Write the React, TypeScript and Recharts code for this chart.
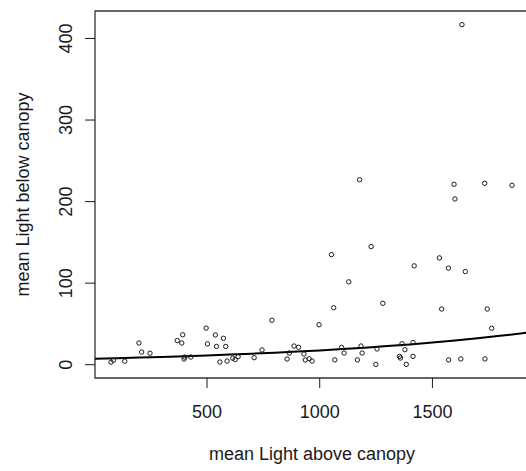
import { ComposedChart, Scatter, Line, XAxis, YAxis, ReferenceArea } from 'recharts'

// mean light above canopy (x) vs mean light below canopy (y)
const lightAbove = [
  74, 85, 135, 198, 210, 247, 368, 388, 392, 398, 401, 428,
  496, 502, 537, 542, 557, 573, 583, 589, 614, 625, 638, 709,
  744, 788, 855, 865, 886, 906, 930, 936, 953, 966, 997, 1052,
  1062, 1067, 1097, 1108, 1129, 1167, 1177, 1183, 1188, 1228, 1249, 1254,
  1280, 1354, 1358, 1365, 1378, 1384, 1414, 1414, 1419, 1531, 1541, 1571,
  1572, 1596, 1600, 1626, 1631, 1646, 1732, 1733, 1743, 1763, 1853,
]
const lightBelow = [
  3.1, 5.5, 4.3, 26.6, 15.5, 14.1, 29.6, 26.6, 36.7, 7.0, 9.4, 9.4,
  44.9, 25.5, 36.5, 22.4, 3.3, 32.4, 22.4, 4.5, 8.0, 6.4, 9.8, 8.6,
  18.1, 54.5, 7.0, 14.3, 22.9, 21.4, 13.1, 5.8, 7.3, 4.5, 49.0, 135,
  69.8, 5.9, 21.2, 14.3, 101.6, 5.9, 226.8, 22.9, 14.3, 144.8, 0.4, 19.3,
  75.3, 10.2, 8.2, 25.7, 18.4, 0.4, 27.2, 10.2, 121.2, 131, 68.3, 118.4,
  5.9, 221.2, 203.2, 7.1, 417, 114.2, 222.4, 7.1, 68.3, 44.7, 220,
]

// fitted curve
const fitX = [3, 100, 200, 300, 400, 500, 600, 700, 800, 900, 1000, 1100, 1200, 1300, 1400, 1500, 1600, 1700, 1800, 1900, 1924]
const fitY = [7.3, 8.0, 8.7, 9.5, 10.4, 11.3, 12.4, 13.5, 14.7, 16.1, 17.5, 19.2, 20.9, 22.8, 24.9, 27.2, 29.7, 32.4, 35.4, 38.6, 39.5]

const xTicks = [500, 1000, 1500]
const yTicks = [0, 100, 200, 300, 400]
const xDomain = [3, 1924]
const yDomain = [-16.3, 433.7]

const points = lightAbove.map((x, i) => ({ x, y: lightBelow[i] }))
const fit = fitX.map((x, i) => ({ x, y: fitY[i] }))

const FONT = '"Liberation Sans", Arial, sans-serif'
const INK = '#1a1a1a'

const OpenCircle = (props: any) => (
  <circle cx={props.cx} cy={props.cy} r={2.2} fill="none" stroke={INK} strokeWidth={1} />
)

const YTick = ({ y, payload }: any) => (
  <text
    x={72}
    y={y}
    transform={`rotate(-90, 72, ${y})`}
    textAnchor="middle"
    fontSize={18}
    fontFamily={FONT}
    fill={INK}
  >
    {payload.value}
  </text>
)

export default function App() {
  return (
    <div style={{ position: 'absolute', left: 0, top: 0, width: 526, height: 471, overflow: 'hidden', background: '#fff' }}>
      <ComposedChart width={540} height={471} margin={{ top: 11, right: 12, left: 0, bottom: 0 }}>
        <XAxis
          type="number"
          dataKey="x"
          domain={xDomain}
          allowDataOverflow
          ticks={xTicks}
          height={93}
          tickSize={10}
          tickMargin={17}
          axisLine={false}
          tickLine={{ stroke: INK }}
          tick={{ fontSize: 18, fontFamily: FONT, fill: INK }}
        />
        <YAxis
          type="number"
          dataKey="y"
          domain={yDomain}
          allowDataOverflow
          ticks={yTicks}
          width={95}
          tickSize={10}
          axisLine={false}
          tickLine={{ stroke: INK }}
          tick={<YTick />}
        />
        <ReferenceArea
          x1={xDomain[0]}
          x2={xDomain[1]}
          y1={yDomain[0]}
          y2={yDomain[1]}
          fill="none"
          stroke="#333"
          strokeWidth={1.3}
          ifOverflow="visible"
        />
        <Scatter data={points} dataKey="y" shape={<OpenCircle />} isAnimationActive={false} />
        <Line data={fit} dataKey="y" stroke="#000" strokeWidth={2} dot={false} isAnimationActive={false} />
      </ComposedChart>
      <svg width={526} height={471} style={{ position: 'absolute', left: 0, top: 0, pointerEvents: 'none' }}>
        <text x={312} y={460} textAnchor="middle" fontSize={18} fontFamily={FONT} fill={INK}>
          mean Light above canopy
        </text>
        <text
          x={29}
          y={194.5}
          transform="rotate(-90, 29, 194.5)"
          textAnchor="middle"
          fontSize={18}
          fontFamily={FONT}
          fill={INK}
        >
          mean Light below canopy
        </text>
      </svg>
    </div>
  )
}
